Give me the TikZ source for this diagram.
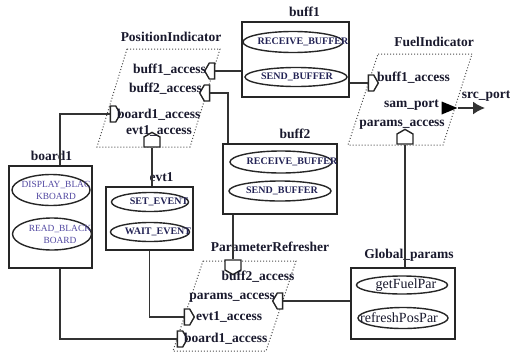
\documentclass[tikz,border=0pt]{standalone}
\usepackage{fontspec}
\setmainfont{Liberation Serif}
\usetikzlibrary{shapes.geometric}
\usetikzlibrary{shapes.symbols}
\usetikzlibrary{arrows.meta}
\definecolor{Ink}{RGB}{25,25,45}
\definecolor{Evt}{RGB}{35,35,85}
\definecolor{Brd}{RGB}{80,70,160}

\begin{document}
\begin{tikzpicture}[x=1pt,y=-1pt]
    \tikzset{ box/.style={draw=black!85, line width=1.6pt, inner sep=0pt} }
    \tikzset{ elp/.style={draw=black!85, ellipse, line width=1.4pt, inner sep=0pt} }
    \tikzset{ acc/.style={draw=black!85, fill=white, signal, signal pointer angle=120, line width=1.4pt, inner sep=0pt} }
    \tikzset{ prc/.style={draw=black!70, dotted, line width=1pt} }
    \tikzset{ wire/.style={draw=black!80, line width=1.8pt} }
    \tikzset{ lbl/.style={text=Ink, font=\fontsize{13.5}{15}\selectfont\bfseries, inner sep=0pt} }
    \tikzset{ btxt/.style={text=Evt, font=\fontsize{10}{11}\selectfont\bfseries, inner sep=0pt} }
    \tikzset{ rtxt/.style={text=Brd, font=\fontsize{9.4}{12}\selectfont, inner sep=0pt, align=center} }
    \tikzset{ gtxt/.style={text=Ink, font=\fontsize{14}{15}\selectfont, inner sep=0pt} }

    \useasboundingbox (0,0) rectangle (510,353);

    % processes
    \draw[prc] (127,49) -- (220,49) -- (190,147) -- (97,147) -- cycle;
    \draw[prc] (378,54) -- (472,54) -- (443,145) -- (348,145) -- cycle;
    \draw[prc] (203,261) -- (296,261) -- (266,351) -- (173,351) -- cycle;
    \node[lbl] (pind) at (171,37)  {PositionIndicator};
    \node[lbl] (find) at (434,42)  {FuelIndicator};
    \node[lbl] (pref) at (270,247) {ParameterRefresher};

    % data components
    \node[box, minimum width=107, minimum height=75,  label={[lbl, xshift=9pt,  yshift=4pt]above:buff1}]         (b1)  at (295.5,59.5) {};
    \node[box, minimum width=114, minimum height=70,  label={[lbl, xshift=15pt, yshift=4pt]above:buff2}]         (b2)  at (280,179)    {};
    \node[box, minimum width=83,  minimum height=102, label={[lbl, xshift=1pt,  yshift=4pt]above:board1}]        (bd1) at (50.5,217)   {};
    \node[box, minimum width=87,  minimum height=63,  label={[lbl, xshift=12pt, yshift=4pt]above:evt1}]          (e1)  at (149.5,218.5){};
    \node[box, minimum width=104, minimum height=71,  label={[lbl, xshift=6pt,  yshift=6pt]above:Global\_params}] (gp)  at (403,303.5)  {};

    % subprograms
    \node[elp, minimum width=100, minimum height=21, label={[btxt, xshift=10pt]center:RECEIVE\_BUFFER}] (rc1) at (293,42)  {};
    \node[elp, minimum width=102, minimum height=19, label={[btxt, xshift=1pt]center:SEND\_BUFFER}]     (sd1) at (296,77)  {};
    \node[elp, minimum width=102, minimum height=22, label={[btxt, xshift=11pt]center:RECEIVE\_BUFFER}] (rc2) at (281,162) {};
    \node[elp, minimum width=102, minimum height=20, label={[btxt, xshift=2pt]center:SEND\_BUFFER}]     (sd2) at (280,191) {};
    \node[elp, minimum width=78,  minimum height=31, label={[rtxt, xshift=5pt]center:DISPLAY\_BLAC\\KBOARD}] (dsp) at (51,190) {};
    \node[elp, minimum width=79,  minimum height=32, label={[rtxt, xshift=8pt]center:READ\_BLACK\\BOARD}]    (rd)  at (52,234) {};
    \node[elp, minimum width=77,  minimum height=19, label={[btxt, xshift=9pt]center:SET\_EVENT}]       (st)  at (150,202) {};
    \node[elp, minimum width=79,  minimum height=19, label={[btxt, xshift=8pt]center:WAIT\_EVENT}]      (wt)  at (150,232) {};
    \node[elp, minimum width=91,  minimum height=18, label={[gtxt, xshift=4pt]center:getFuelPar}]       (gf)  at (402,285) {};
    \node[elp, minimum width=90,  minimum height=21, label={[gtxt, xshift=-4pt]center:refreshPosPar}]   (rp)  at (403,318) {};

    % access ports
    \node[acc, signal to=west,  minimum width=10, minimum height=16] (pa1) at (212,71)  {};
    \node[acc, signal to=west,  minimum width=10, minimum height=16] (pa2) at (207,93)  {};
    \node[acc, signal to=east,  minimum width=10, minimum height=16] (pa3) at (113,114) {};
    \node[acc, signal to=north, minimum width=16, minimum height=10] (pa4) at (152,142) {};
    \node[acc, signal to=east,  minimum width=10, minimum height=16] (fa1) at (371,83)  {};
    \node[acc, signal to=north, minimum width=16, minimum height=10] (fa2) at (405,139) {};
    \node[acc, signal to=south, minimum width=16, minimum height=10] (ra1) at (233,265) {};
    \node[acc, signal to=west,  minimum width=10, minimum height=16] (ra2) at (280,301) {};
    \node[acc, signal to=east,  minimum width=10, minimum height=16] (ra3) at (187,317) {};
    \node[acc, signal to=east,  minimum width=10, minimum height=16] (ra4) at (180,339) {};
    \node[isosceles triangle, fill=black, inner sep=0pt, minimum width=13, minimum height=13] (fs) at (446,108) {};
    \coordinate (sp) at (485,108);

    % port names
    \node[lbl, anchor=east] (tpa1) at (206,70)  {buff1\_access};
    \node[lbl, anchor=east] (tpa2) at (202,89)  {buff2\_access};
    \node[lbl, anchor=west] (tpa3) at (117,115) {board1\_access};
    \node[lbl]              (tpa4) at (159,131) {evt1\_access};
    \node[lbl, anchor=west] (tfa1) at (377,78)  {buff1\_access};
    \node[lbl, anchor=east] (tfs)  at (439,105) {sam\_port};
    \node[lbl]              (tfa2) at (402,125) {params\_access};
    \node[lbl]              (tsp)  at (486,96)  {src\_port};
    \node[lbl]              (tra1) at (258,277) {buff2\_access};
    \node[lbl, anchor=east] (tra2) at (275,298) {params\_access};
    \node[lbl, anchor=west] (tra3) at (196,317) {evt1\_access};
    \node[lbl, anchor=west] (tra4) at (184,339) {board1\_access};

    % connections
    \draw[wire] (pa1.east) -- (b1.west |- pa1.east);
    \draw[wire] (pa2.east) -| ([xshift=6pt]b2.north west);
    \draw[wire] (b1.east |- fa1.west) -- (fa1.west);
    \draw[wire, -{Latex[length=12pt,width=13pt]}] (fs.east) -- (sp);
    \draw[wire] (fa2.south) -- (fa2.south |- gp.north);
    \draw[wire] (pa3.west) -| ([xshift=9.5pt]bd1.north);
    \draw[wire] (pa4.south) -- (pa4.south |- e1.north);
    \draw[wire] (ra1.north |- b2.south) -- (ra1.north);
    \draw[wire] (ra2.east) -- (gp.west |- ra2.east);
    \draw[wire] (e1.south) |- (ra3.west);
    \draw[wire] ([xshift=9.5pt]bd1.south) |- (ra4.west);
\end{tikzpicture}
\end{document}
